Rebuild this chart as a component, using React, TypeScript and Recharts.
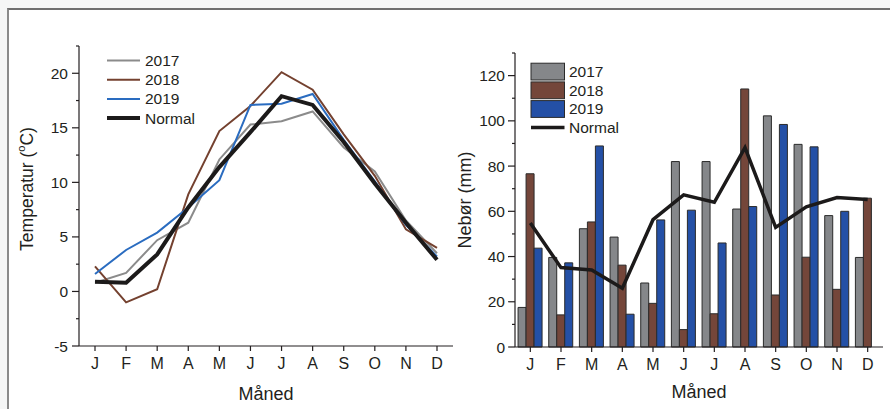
import React from "react";
import { Bar, ComposedChart, Legend, Line, LineChart, XAxis, YAxis } from "recharts";

const months = ["J", "F", "M", "A", "M", "J", "J", "A", "S", "O", "N", "D"];

// temperatur (ºC)
const temp2017 = [0.8, 1.7, 4.7, 6.3, 12.1, 15.3, 15.6, 16.5, 13.2, 11.0, 6.5, 3.5];
const temp2018 = [2.3, -1.0, 0.2, 8.9, 14.7, 17.0, 20.1, 18.5, 14.4, 10.6, 5.7, 4.0];
const temp2019 = [1.6, 3.8, 5.4, 7.7, 10.2, 17.1, 17.2, 18.1, 13.9, 10.1, 6.1, 3.2];
const tempNormal = [0.9, 0.8, 3.4, 7.7, 11.4, 14.6, 17.9, 17.1, 13.7, 9.9, 6.3, 2.9];
const tempTicks = [-5, -2.5, 0, 2.5, 5, 7.5, 10, 12.5, 15, 17.5, 20, 22.5];

// nedbør (mm)
const precip2017 = [17.5, 39.6, 52.3, 48.6, 28.3, 82, 82, 61, 102.2, 89.6, 58.1, 39.6];
const precip2018 = [76.6, 14.2, 55.3, 36.2, 19.3, 7.7, 14.7, 114.1, 23, 39.7, 25.5, 65.8];
const precip2019 = [43.7, 37.2, 88.9, 14.5, 56.2, 60.5, 46, 62.1, 98.4, 88.5, 60, null];
const precipNormal = [54.8, 35.1, 34.1, 26, 56.3, 67.3, 64, 88.2, 52.9, 62, 66.1, 65.2];
const precipTicks = [0, 10, 20, 30, 40, 50, 60, 70, 80, 90, 100, 110, 120, 130];

const seriesNames = ["2017", "2018", "2019", "Normal"];

const FONT = "'Liberation Sans', Arial, sans-serif";
const INK = "#231f20";
const lineColors = ["#8b8b8b", "#74412f", "#2a6cc0", "#1c1a1a"];
const barColors = ["#85878a", "#74463a", "#2450a6"];

const tempData = months.map((m, i) => ({
    m,
    t2017: temp2017[i],
    t2018: temp2018[i],
    t2019: temp2019[i],
    normal: tempNormal[i],
}));

const precipData = months.map((m, i) => ({
    m,
    p2017: precip2017[i],
    p2018: precip2018[i],
    p2019: precip2019[i],
    normal: precipNormal[i],
}));

function YTick(props: any) {
    const { x, y, payload, majorStep, margin } = props;
    const v = payload.value;
    const major = Math.abs(v / majorStep - Math.round(v / majorStep)) < 1e-6;
    const end = x + margin + 7;
    return (
        <g>
            <line x1={major ? end - 7 : end - 3} x2={end} y1={y} y2={y} stroke={INK} strokeWidth={1.2} />
            {major && (
                <text x={x} y={y} textAnchor="end" dominantBaseline="central" fontSize={15.5} fill={INK} fontFamily={FONT}>
                    {v}
                </text>
            )}
        </g>
    );
}

function LineLegend() {
    return (
        <svg width={110} height={80} style={{ display: "block" }}>
            {seriesNames.map((name, i) => {
                const cy = 10.5 + i * 19.2;
                return (
                    <g key={name}>
                        <line x1={2} x2={35} y1={cy} y2={cy} stroke={lineColors[i]} strokeWidth={i === 3 ? 4 : 2} />
                        <text x={40} y={cy} dominantBaseline="central" fontSize={15.5} fill={INK} fontFamily={FONT}>
                            {name}
                        </text>
                    </g>
                );
            })}
        </svg>
    );
}

function BarLegend() {
    return (
        <svg width={110} height={80} style={{ display: "block" }}>
            {seriesNames.map((name, i) => {
                const cy = 11.5 + i * 18.7;
                return (
                    <g key={name}>
                        {i < 3 ? (
                            <rect x={1} y={cy - 8.3} width={33.5} height={16.8} fill={barColors[i]} stroke="#2b2b2b" strokeWidth={1} />
                        ) : (
                            <line x1={1} x2={34.5} y1={cy} y2={cy} stroke={lineColors[3]} strokeWidth={3.5} />
                        )}
                        <text x={39} y={cy} dominantBaseline="central" fontSize={15.5} fill={INK} fontFamily={FONT}>
                            {name}
                        </text>
                    </g>
                );
            })}
        </svg>
    );
}

const xTick = { fill: INK, fontSize: 16, fontFamily: FONT };
const axisLine = { stroke: INK, strokeWidth: 1.2 };

function TempChart() {
    return (
        <LineChart width={460} height={409} data={tempData} margin={{ top: 46, right: 7, bottom: 5, left: 0 }}>
            <XAxis
                dataKey="m"
                height={58}
                padding={{ left: 16, right: 16 }}
                interval={0}
                tick={xTick}
                tickSize={5}
                tickMargin={7}
                axisLine={axisLine}
                tickLine={{ stroke: INK, strokeWidth: 1.2 }}
                label={{ value: "Måned", position: "insideBottom", offset: 4, fill: INK, fontSize: 18, fontFamily: FONT }}
            />
            <YAxis
                width={79}
                domain={[-5, 22.5]}
                ticks={tempTicks}
                interval={0}
                tickSize={7}
                tickMargin={4}
                tickLine={false}
                axisLine={axisLine}
                tick={(p: any) => <YTick {...p} majorStep={5} margin={4} />}
                label={{
                    position: "insideLeft",
                    content: () => (
                        <text
                            x={27}
                            y={189}
                            transform="rotate(-90 27 189)"
                            textAnchor="middle"
                            dominantBaseline="central"
                            fontSize={17.5}
                            fill={INK}
                            fontFamily={FONT}
                        >
                            Temperatur (<tspan dy={-6} fontSize={11}>o</tspan>
                            <tspan dy={6}>C)</tspan>
                        </text>
                    ),
                }}
            />
            <Legend
                layout="vertical"
                align="center"
                verticalAlign="middle"
                wrapperStyle={{ left: 105, top: 50, width: 110, height: 80 }}
                content={() => <LineLegend />}
            />
            <Line type="linear" dataKey="t2017" stroke={lineColors[0]} strokeWidth={2} dot={false} isAnimationActive={false} />
            <Line type="linear" dataKey="t2018" stroke={lineColors[1]} strokeWidth={2} dot={false} isAnimationActive={false} />
            <Line type="linear" dataKey="t2019" stroke={lineColors[2]} strokeWidth={2} dot={false} isAnimationActive={false} />
            <Line type="linear" dataKey="normal" stroke={lineColors[3]} strokeWidth={4} dot={false} isAnimationActive={false} />
        </LineChart>
    );
}

function PrecipChart() {
    return (
        <ComposedChart
            width={450}
            height={409}
            data={precipData}
            margin={{ top: 53, right: 7, bottom: 5, left: 0 }}
            barCategoryGap="10%"
            barGap={0}
        >
            <XAxis
                dataKey="m"
                height={57}
                interval={0}
                tick={xTick}
                tickSize={5}
                tickMargin={7}
                axisLine={axisLine}
                tickLine={{ stroke: INK, strokeWidth: 1.2 }}
                label={{ value: "Måned", position: "insideBottom", offset: 6, fill: INK, fontSize: 18, fontFamily: FONT }}
            />
            <YAxis
                width={75}
                domain={[0, 130]}
                ticks={precipTicks}
                interval={0}
                tickSize={7}
                tickMargin={3}
                tickLine={false}
                axisLine={axisLine}
                tick={(p: any) => <YTick {...p} majorStep={20} margin={3} />}
                label={{
                    position: "insideLeft",
                    content: () => (
                        <text
                            x={25}
                            y={200}
                            transform="rotate(-90 25 200)"
                            textAnchor="middle"
                            dominantBaseline="central"
                            fontSize={18}
                            fill={INK}
                            fontFamily={FONT}
                        >
                            Nebør (mm)
                        </text>
                    ),
                }}
            />
            <Legend
                layout="vertical"
                align="center"
                verticalAlign="middle"
                wrapperStyle={{ left: 90, top: 60, width: 110, height: 80 }}
                content={() => <BarLegend />}
            />
            <Bar dataKey="p2017" fill={barColors[0]} stroke="#2b2b2b" strokeWidth={1} isAnimationActive={false} />
            <Bar dataKey="p2018" fill={barColors[1]} stroke="#2b2b2b" strokeWidth={1} isAnimationActive={false} />
            <Bar dataKey="p2019" fill={barColors[2]} stroke="#2b2b2b" strokeWidth={1} isAnimationActive={false} />
            <Line type="linear" dataKey="normal" stroke={lineColors[3]} strokeWidth={3.5} dot={false} isAnimationActive={false} />
        </ComposedChart>
    );
}

export default function App() {
    return (
        <div style={{ position: "absolute", left: 0, top: 0, width: 890, height: 409, background: "#f5f6f6", overflow: "hidden" }}>
            <div
                style={{
                    position: "absolute",
                    left: 7,
                    top: 8,
                    width: 890,
                    height: 409,
                    background: "#ffffff",
                    borderTop: "2px solid #6f6f6f",
                    borderLeft: "2px solid #8a8a8a",
                }}
            />
            <div style={{ position: "absolute", left: 0, top: 0 }}>
                <TempChart />
            </div>
            <div style={{ position: "absolute", left: 440, top: 0 }}>
                <PrecipChart />
            </div>
        </div>
    );
}
